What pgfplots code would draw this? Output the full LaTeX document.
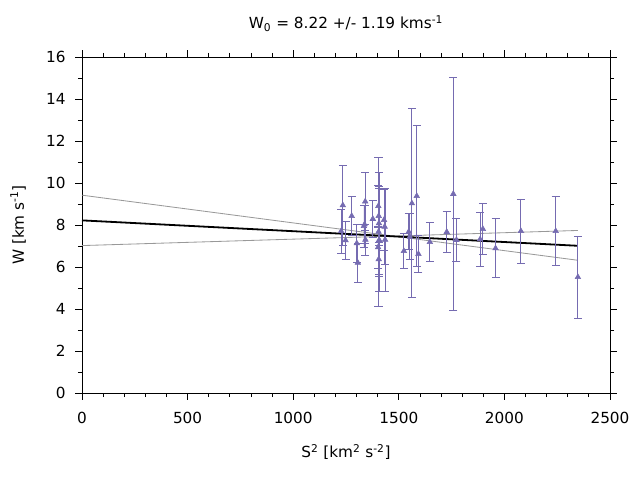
\documentclass[border=0pt]{standalone}
\usepackage{pgfplots}
\pgfplotsset{compat=1.18}
\usepackage{fontspec}
\setmainfont{DejaVu Sans}
\definecolor{pts}{RGB}{117,107,177}
\begin{document}
\fontsize{11}{13}\selectfont
\begin{tikzpicture}
\useasboundingbox (-59.04pt,-62.64pt) rectangle (401.76pt,282.96pt);
\begin{axis}[
  at={(0,0)}, anchor=south west,
  scale only axis, width=380.16pt, height=241.92pt,
  xmin=0, xmax=2500, ymin=0, ymax=16,
  xtick={0,500,...,2500}, ytick={0,2,...,16},
  minor x tick num=4, minor y tick num=1,
  tick align=outside, tick pos=both,
  xticklabel pos=lower, yticklabel pos=left,
  major tick length=5pt, minor tick length=3pt,
  every tick/.style={black, line width=0.6pt},
  axis line style={line width=0.7pt},
  /pgf/number format/assume math mode=true,
  /pgf/number format/set thousands separator={},
  ticklabel style={font=\fontsize{11}{13}\selectfont},
  xticklabel style={yshift=-5pt},
  yticklabel style={xshift=-3pt},
  xlabel={S\textsuperscript{2} [km\textsuperscript{2} s\textsuperscript{-2}]},
  ylabel={W [km s\textsuperscript{-1}]},
  label style={font=\fontsize{11}{13}\selectfont},
  xlabel style={at={(axis description cs:0.5,-0.1757)}, anchor=center},
  ylabel style={at={(axis description cs:-0.121,0.5)}, anchor=center},
  title={W\textsubscript{0} = 8.22 +/- 1.19 kms\textsuperscript{-1}},
  title style={font=\fontsize{11}{13}\selectfont, at={(axis description cs:0.5,1.0744)}, anchor=center},
  clip=true,
]
\addplot[gray!80, line width=0.6pt] coordinates {(0,9.42) (2348,6.32)};
\addplot[gray!80, line width=0.6pt] coordinates {(0,7.02) (2348,7.74)};
\addplot[black, line width=1.3pt] coordinates {(0,8.22) (2348,7.01)};
\addplot[only marks, mark=triangle*, mark size=2.3pt, color=pts, fill=pts,
  error bars/.cd, y dir=both, y explicit,
  error bar style={line width=0.6pt, pts},
  error mark options={rotate=90, mark size=2.9pt, line width=0.6pt, pts}]
  table[x=x, y=y, y error=e] {
x y e
1235 8.94 1.90
1227 7.71 1.05
1248 7.27 0.90
1277 8.43 0.94
1301 7.13 0.90
1306 6.20 0.93
1341 9.12 1.37
1338 8.03 0.90
1342 7.30 0.75
1335 7.95 1.00
1377 8.29 0.90
1404 7.68 3.54
1406 8.08 2.43
1403 8.90 1.00
1405 8.43 1.40
1407 7.29 2.46
1402 6.94 1.00
1405 6.37 0.80
1430 8.24 1.45
1433 7.92 1.80
1435 7.30 2.44
1524 6.76 0.83
1547 7.68 0.85
1552 7.44 1.10
1562 9.03 4.50
1585 9.38 3.37
1593 6.62 0.90
1647 7.19 0.92
1727 7.67 0.97
1758 9.48 5.55
1773 7.29 1.03
1885 7.32 1.30
1898 7.81 1.22
1958 6.89 1.40
2078 7.71 1.53
2243 7.71 1.65
2348 5.52 1.95
};
\end{axis}
\end{tikzpicture}
\end{document}
